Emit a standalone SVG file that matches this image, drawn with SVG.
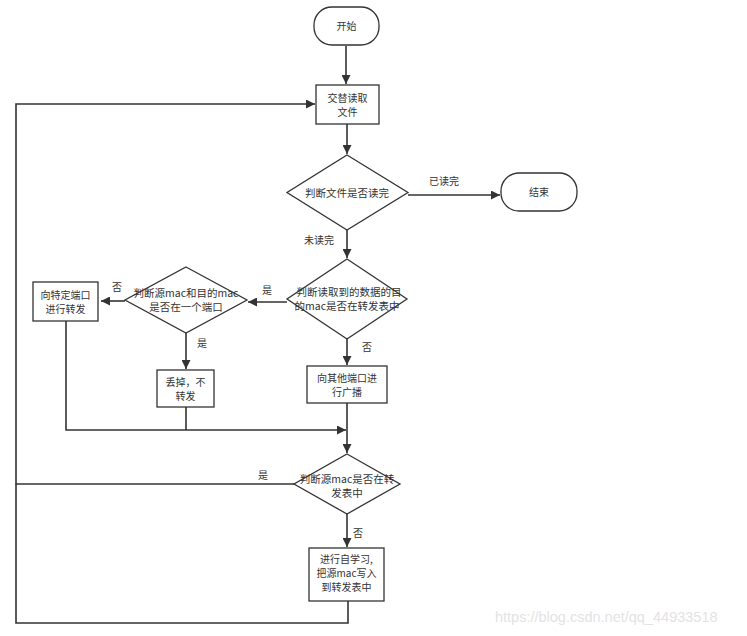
<svg xmlns="http://www.w3.org/2000/svg" width="747" height="636" viewBox="0 0 747 636">
<defs>
<marker id="ah" viewBox="0 0 10 10" refX="10" refY="5" markerWidth="9" markerHeight="9" markerUnits="userSpaceOnUse" orient="auto">
<path d="M0,0 L10,5 L0,10 Z" fill="#333"/>
</marker>
</defs>
<style>
.n{fill:#fff;stroke:#333;stroke-width:1.3}
.t{font-family:"Noto Sans CJK SC","Liberation Sans",sans-serif;font-size:10px;fill:#333;text-anchor:middle}
.d{font-size:10.5px}
.e{stroke:#333;stroke-width:1.6;fill:none}
.a{marker-end:url(#ah)}
.l{font-family:"Noto Sans CJK SC","Liberation Sans",sans-serif;font-size:10px;fill:#333}
</style>
<rect width="747" height="636" fill="#fff"/>
<g id="connectors">
<path class="e a" d="M346,46 V84"/>
<path class="e a" d="M347,124 V154"/>
<path class="e a" d="M408,195 H500"/>
<path class="e a" d="M347,230 V258"/>
<path class="e a" d="M287,302 H248"/>
<path class="e a" d="M125,301 H101"/>
<path class="e a" d="M186,333 V369"/>
<path class="e a" d="M347,339 V365"/>
<path class="e a" d="M66,321 V430 H346"/>
<path class="e" d="M186,407 V430"/>
<path class="e a" d="M347,403 V453"/>
<path class="e a" d="M294,484 H16 V104 H315"/>
<path class="e a" d="M347,514 V547"/>
<path class="e" d="M348,601 V623 H16 V484"/>
</g>
<g id="labels">
<text class="l" x="429" y="185">已读完</text>
<text class="l" x="304" y="244">未读完</text>
<text class="l" x="262" y="294">是</text>
<text class="l" x="112" y="291">否</text>
<text class="l" x="197" y="347">是</text>
<text class="l" x="362" y="351">否</text>
<text class="l" x="258" y="479">是</text>
<text class="l" x="353" y="537">否</text>
</g>
<g id="start">
<rect class="n" x="314" y="7" width="65" height="38" rx="18"/>
<text class="t" x="346.5" y="30">开始</text>
</g>
<g id="read">
<rect class="n" x="316" y="85" width="63" height="39"/>
<text class="t" x="347.5" y="102">交替读取</text>
<text class="t" x="347.5" y="116">文件</text>
</g>
<g id="check-done">
<polygon class="n" points="347,155 408,192.5 347,230 287,192.5"/>
<text class="t d" x="347" y="197">判断文件是否读完</text>
</g>
<g id="end">
<rect class="n" x="501" y="173" width="76" height="38" rx="18"/>
<text class="t" x="539" y="196">结束</text>
</g>
<g id="check-dst">
<polygon class="n" points="347,259 407,299 347,339 287,299"/>
<text class="t d" x="349" y="296">判断读取到的数据的目</text>
<text class="t d" x="347" y="310">的mac是否在转发表中</text>
</g>
<g id="check-port">
<polygon class="n" points="186,267 247,300 186,333 125,300"/>
<text class="t d" x="186" y="297">判断源mac和目的mac</text>
<text class="t d" x="186" y="311">是否在一个端口</text>
</g>
<g id="forward">
<rect class="n" x="33" y="282" width="65" height="39"/>
<text class="t" x="65.5" y="299">向特定端口</text>
<text class="t" x="65.5" y="313">进行转发</text>
</g>
<g id="drop">
<rect class="n" x="157" y="370" width="57" height="37"/>
<text class="t" x="185.5" y="386">丢掉，不</text>
<text class="t" x="185.5" y="400">转发</text>
</g>
<g id="broadcast">
<rect class="n" x="307" y="366" width="80" height="37"/>
<text class="t" x="347" y="382">向其他端口进</text>
<text class="t" x="347" y="396">行广播</text>
</g>
<g id="check-src">
<polygon class="n" points="347,454 400,484 347,514 294,484"/>
<text class="t d" x="347" y="483">判断源mac是否在转</text>
<text class="t d" x="347" y="497">发表中</text>
</g>
<g id="learn">
<rect class="n" x="309" y="548" width="75" height="53"/>
<text class="t" x="346.5" y="563">进行自学习,</text>
<text class="t" x="346.5" y="577">把源mac写入</text>
<text class="t" x="346.5" y="591">到转发表中</text>
</g>
<text x="495" y="622" font-family="Liberation Sans, sans-serif" font-size="14.5" fill="#e3e3e3">https://blog.csdn.net/qq_44933518</text>
</svg>
